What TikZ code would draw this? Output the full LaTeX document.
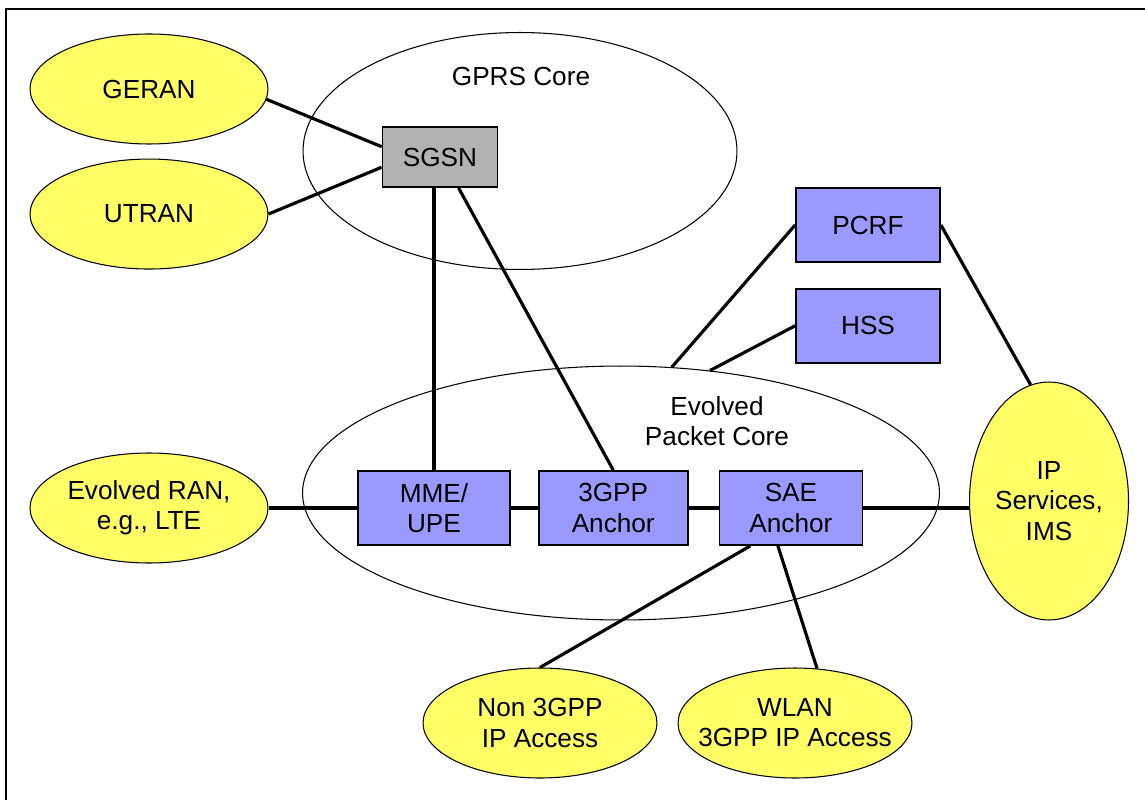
\documentclass[tikz,border=0pt]{standalone}
\usepackage{fontspec}
\setmainfont{Liberation Sans}
\usetikzlibrary{shapes.geometric, positioning}
\definecolor{termyellow}{RGB}{255,255,102}
\definecolor{nodeblue}{RGB}{153,153,255}
\definecolor{sgsngray}{RGB}{178,178,178}
\tikzset{
every node/.style={align=center, font=\fontsize{14.9}{17.2}\selectfont}, % Arial-like labels everywhere
term/.style={ellipse, draw, fill=termyellow, line width=0.6pt, minimum width=4.76cm, minimum height=2.2cm, inner sep=0pt}, % yellow access / service networks
core/.style={ellipse, draw, line width=0.6pt, inner sep=0pt}, % the open core areas
element/.style={rectangle, draw, fill=nodeblue, line width=1pt, minimum height=1.48cm}, % blue network elements
sgsnbox/.style={rectangle, draw, fill=sgsngray, line width=1pt, minimum width=2.3cm, minimum height=1.2cm}, % the grey SGSN
link/.style={line width=1.8pt}, % the thick interfaces
}

\begin{document}
\begin{tikzpicture}[x=0.02cm, y=-0.02cm]
              \useasboundingbox (0,0) rectangle (1145,800);
              \draw[line width=0.8pt] (1145,9) -- (6,9) -- (6,800); % frame

              % core areas
              \node[core, minimum width=8.68cm, minimum height=4.74cm] (gprs) at (520,151) {};
              \node (gprslabel) at (521,76) {GPRS Core};
              \node[core, minimum width=12.74cm, minimum height=5.08cm] (epc) at (621,493) {};
              \node (epclabel) at (717,421) {Evolved\\Packet Core};

              % access and service networks
              \node[term] (geran) at (149,89) {GERAN};
              \node[term, below=0.28cm of geran] (utran) {UTRAN};
              \node[term] (eran) at (149,508) {Evolved RAN,\\e.g., LTE};
              \node[term, minimum width=3.18cm, minimum height=4.76cm] (ips) at (1049,501) {IP\\Services,\\IMS};
              \node[term, minimum width=4.68cm] (non3gpp) at (540,723) {Non 3GPP\\IP Access};
              \node[term, minimum width=4.68cm, inner xsep=-0.6cm, right=0.4cm of non3gpp] (wlan) {WLAN\\3GPP IP Access};

              % network elements
              \node[sgsnbox] (sgsn) at (440,157) {SGSN};
              \node[element, minimum width=3.04cm] (mme) at (434,508) {MME/\\UPE};
              \node[element, minimum width=2.98cm, right=0.54cm of mme] (anchor3gpp) {3GPP\\Anchor};
              \node[element, minimum width=2.86cm, right=0.6cm of anchor3gpp] (sae) {SAE\\Anchor};
              \node[element, minimum width=2.88cm] (pcrf) at (868,225) {PCRF};
              \node[element, minimum width=2.88cm, below=0.5cm of pcrf] (hss) {HSS};

              \draw[link]
              (geran.355) edge (sgsn.170)
              (utran.east) edge (sgsn.190)
              (sgsn.south -| mme.north) edge (mme.north)
              (sgsn.-59) edge (anchor3gpp.north)

              (pcrf.west) edge (epc.68)
              (hss.west) edge (epc.54)
              (pcrf.east) edge (ips.99)

              (eran.east) edge (mme.west)
              (mme.east) edge (anchor3gpp.west)
              (anchor3gpp.east) edge (sae.west)
              (sae.east) edge (sae.east -| ips.west)

              (sae.223) edge (non3gpp.north)
              (sae.251) edge (wlan.68)
              ;
            \end{tikzpicture}
\end{document}
